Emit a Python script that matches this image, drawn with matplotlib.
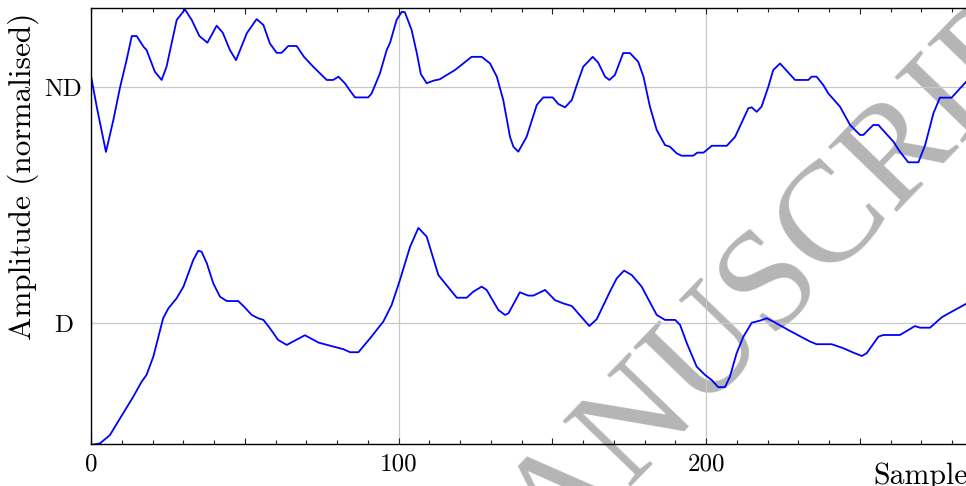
import matplotlib
matplotlib.use('Agg')
import matplotlib.pyplot as plt
from matplotlib.ticker import MultipleLocator, FuncFormatter

plt.rcParams['font.family'] = 'cmr10'
plt.rcParams['mathtext.fontset'] = 'cm'
plt.rcParams['axes.formatter.use_mathtext'] = True

# sample index / normalised amplitude (D level = 0, ND level = 1)
nd_x = [0, 2, 4.8, 7.2, 9.4, 11.5, 13.2, 14.8, 17, 18, 20.7, 22.9, 24.5, 27.8, 30.5,
        32.7, 35.2, 37.8, 40.8, 42.8, 45.1, 47.1, 50.6, 53.8, 56, 58.1, 60.3, 61.9,
        64.1, 66.8, 69.2, 72.2, 76.6, 78.7, 80.4, 82.5, 84.2, 85.8, 90.1, 91.2, 93.9,
        96.1, 97.2, 99.3, 101, 102, 104.2, 105.9, 107.2, 109.1, 111.3, 113.4, 115.6,
        118.3, 121, 123.7, 127, 129.7, 131.9, 134, 136.2, 137.3, 138.9, 141.6, 144.9,
        147, 150.1, 151.9, 154.1, 156.3, 157.9, 160, 163.1, 164.9, 167.1, 168.5, 170.3,
        173, 175.2, 177.9, 179.6, 181.7, 183.9, 186.6, 188.2, 190.4, 192, 195.8, 197.1,
        199.1, 200.2, 201.8, 206.7, 209.4, 213.7, 214.8, 216.4, 218, 220.2, 221.8, 224,
        228.9, 233.2, 234.3, 235.9, 238.1, 239.7, 243.5, 246.8, 250, 251.1, 254.3, 256,
        260.9, 263, 265.7, 269, 271.2, 273.9, 276, 279.8, 284.5]
nd_y = [1.042, 0.903, 0.725, 0.860, 1.000, 1.114, 1.216, 1.216, 1.171, 1.157, 1.065,
        1.030, 1.086, 1.284, 1.329, 1.284, 1.216, 1.188, 1.260, 1.230, 1.157, 1.114,
        1.228, 1.288, 1.263, 1.185, 1.145, 1.145, 1.174, 1.174, 1.128, 1.086, 1.030,
        1.030, 1.044, 1.016, 0.984, 0.956, 0.956, 0.973, 1.058, 1.157, 1.188, 1.284,
        1.319, 1.317, 1.242, 1.143, 1.055, 1.016, 1.027, 1.033, 1.051, 1.072, 1.100,
        1.128, 1.128, 1.100, 1.044, 0.945, 0.789, 0.747, 0.726, 0.789, 0.924, 0.956,
        0.956, 0.928, 0.914, 0.945, 1.008, 1.086, 1.128, 1.103, 1.044, 1.030, 1.051,
        1.144, 1.144, 1.107, 1.044, 0.917, 0.818, 0.754, 0.747, 0.719, 0.709, 0.709,
        0.722, 0.722, 0.733, 0.751, 0.751, 0.789, 0.910, 0.914, 0.895, 0.917, 1.001,
        1.072, 1.100, 1.030, 1.030, 1.044, 1.044, 1.008, 0.973, 0.917, 0.839, 0.797,
        0.797, 0.839, 0.839, 0.768, 0.726, 0.681, 0.681, 0.754, 0.889, 0.955, 0.955,
        1.022]

d_x = [0, 2.9, 6.1, 9.4, 13.7, 16.4, 18, 20.2, 23.4, 25.1, 27.8, 30, 33.2, 34.8, 35.9,
       37.6, 39.7, 41.9, 44.1, 47.8, 49.5, 52.2, 54.3, 56, 58.1, 60.8, 63.6, 69.5, 73.9,
       78.7, 82, 84.2, 86.9, 90.7, 95, 97.7, 100.4, 103.7, 106.4, 109.1, 112.9, 118.9,
       122.1, 124.3, 127, 128.6, 132.4, 134.6, 135.7, 139.4, 142.1, 143.8, 147.6, 150.8,
       153.5, 156.3, 162, 164.4, 168.7, 170.9, 173.3, 175.8, 179, 183.9, 186.6, 189.9,
       191.5, 193.7, 196.9, 199.6, 201.8, 203.9, 206.1, 207.7, 209.9, 212.1, 214.8,
       217.5, 219.7, 221.8, 227.3, 233.8, 235.9, 240.8, 244.6, 247.9, 250.6, 252.2, 256,
       257.6, 263, 267.9, 269.5, 272.8, 276.6, 279.3, 284.5]
d_y = [-0.517, -0.510, -0.475, -0.404, -0.312, -0.249, -0.220, -0.143, 0.020, 0.062,
       0.105, 0.154, 0.267, 0.306, 0.302, 0.253, 0.168, 0.111, 0.093, 0.093, 0.072,
       0.034, 0.020, 0.013, -0.022, -0.072, -0.093, -0.052, -0.083, -0.100, -0.111,
       -0.124, -0.124, -0.065, 0.006, 0.076, 0.182, 0.323, 0.403, 0.366, 0.203, 0.107,
       0.107, 0.133, 0.154, 0.140, 0.055, 0.034, 0.041, 0.130, 0.116, 0.116, 0.140,
       0.097, 0.083, 0.072, -0.013, 0.016, 0.133, 0.189, 0.222, 0.203, 0.154, 0.034,
       0.013, 0.013, -0.008, -0.086, -0.185, -0.220, -0.242, -0.272, -0.272, -0.228,
       -0.128, -0.058, 0.001, 0.010, 0.020, 0.006, -0.034, -0.079, -0.090, -0.090,
       -0.107, -0.126, -0.140, -0.128, -0.058, -0.051, -0.051, -0.013, -0.020, -0.020,
       0.024, 0.044, 0.081]

level_ticks = [0, 1]
level_labels = ['D', 'ND']
x_labelled = [0, 100, 200]

fig = plt.figure(figsize=(9.66, 4.86), dpi=100)
ax = fig.add_axes([91.2 / 966, 42 / 486, 891.75 / 966, 436 / 486])
ax.set_facecolor('none')

# grid drawn by hand so it only sits on the labelled positions
for yv in level_ticks:
    ax.axhline(yv, color='#c8c8c8', lw=0.9, zorder=1)
for xv in x_labelled:
    ax.axvline(xv, color='#c8c8c8', lw=0.9, zorder=1)

ax.plot(nd_x, nd_y, color='#0000ff', lw=1.3, zorder=2)
ax.plot(d_x, d_y, color='#0000ff', lw=1.3, zorder=2)

ax.set_xlim(0, 290)
ax.set_ylim(-0.513, 1.335)

ax.xaxis.set_major_locator(MultipleLocator(50))
ax.xaxis.set_minor_locator(MultipleLocator(10))
ax.xaxis.set_major_formatter(FuncFormatter(lambda v, p: '%d' % v if v in x_labelled else ''))
ax.tick_params(axis='x', which='both', direction='in', top=True, labelsize=18, pad=7,
               color='#222222', width=0.8)
ax.tick_params(axis='x', which='major', length=4)
ax.tick_params(axis='x', which='minor', length=2.7)

ax.set_yticks(level_ticks)
ax.set_yticklabels(level_labels)
ax.tick_params(axis='y', length=0, labelsize=18, pad=20)
for lab in ax.get_yticklabels():
    lab.set_horizontalalignment('center')

for s in ax.spines.values():
    s.set_linewidth(1.0)
ax.spines['right'].set_visible(False)

fig.text(23 / 966, 1 - 176 / 486, 'Amplitude (normalised)', rotation=90,
         ha='center', va='center', fontsize=22.5)
fig.text(921 / 966, 1 - 476 / 486, 'Sample', ha='center', va='center', fontsize=21.5)

# watermark
fig.text(0.512, -0.19, 'ACCEPTED MANUSCRIPT', family='Liberation Serif',
         fontsize=103, color='#b5b5b5', rotation=46, rotation_mode='anchor',
         ha='center', va='center', zorder=-1)

fig.savefig('out.png', dpi=100)
